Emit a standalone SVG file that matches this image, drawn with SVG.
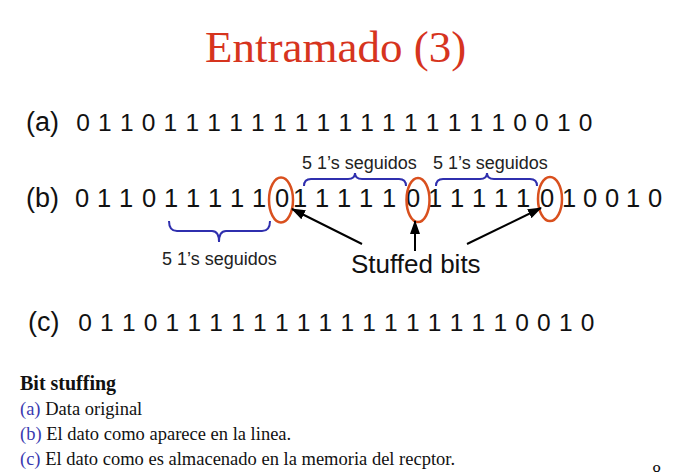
<svg xmlns="http://www.w3.org/2000/svg" width="684" height="472" viewBox="0 0 684 472">
  <defs>
    <marker id="head" viewBox="0 0 14 10" refX="13" refY="5" markerWidth="14" markerHeight="10" markerUnits="userSpaceOnUse" orient="auto">
      <path d="M0,0 L14,5 L0,10 Z" fill="#000"/>
    </marker>
  </defs>
  <style>
    .title { font-family: "Liberation Serif", "Times New Roman", serif; font-size: 45px; fill: #d6341e; }
    .bits { font-family: "Liberation Sans", Arial, sans-serif; font-size: 24.5px; fill: #111; text-anchor: middle; }
    .bitsb { font-family: "Liberation Sans", Arial, sans-serif; font-size: 25.5px; fill: #111; text-anchor: middle; }
    .lbl { font-family: "Liberation Sans", Arial, sans-serif; font-size: 27px; fill: #111; }
    .note { font-family: "Liberation Sans", Arial, sans-serif; font-size: 18px; fill: #222; }
    .stuffed { font-family: "Liberation Sans", Arial, sans-serif; font-size: 26px; fill: #111; }
    .brace { fill: none; stroke: #2f2fae; stroke-width: 2; }
    .ring { fill: none; stroke: #d9501e; stroke-width: 2.5; }
    .arrow { fill: none; stroke: #000; stroke-width: 2; marker-end: url(#head); }
    .cap { font-family: "Liberation Serif", "Times New Roman", serif; font-size: 18.5px; fill: #111; }
    .capb { font-family: "Liberation Serif", "Times New Roman", serif; font-size: 20px; font-weight: bold; fill: #111; }
    .key { fill: #3a3ab0; }
  </style>

  <text class="title" x="205" y="62">Entramado (3)</text>

  <!-- row (a): original data -->
  <g id="row-a">
    <text class="lbl" x="26" y="131">(a)</text>
    <text class="bits" y="131" x="83 104.9 126.7 148.6 170.4 192.3 214.1 236 257.8 279.7 301.5 323.4 345.2 367.1 388.9 410.8 432.6 454.5 476.3 498.2 520 541.9 563.7 585.6">011011111111111111110010</text>
  </g>

  <!-- row (b): data on the line, with stuffed bits -->
  <g id="row-b">
    <text class="lbl" x="26" y="207">(b)</text>
    <text class="bitsb" y="207" x="82 104 126 149 171 193 215 237 259 282 300 322 344 366 389 413 435 457 479 501 523 547 569 590 612 633 655">011011111011111011111010010</text>
  </g>

  <!-- rings around the stuffed zeros -->
  <g id="stuffed-rings">
    <ellipse class="ring" cx="281" cy="200" rx="12" ry="22.5"/>
    <ellipse class="ring" cx="418" cy="200" rx="11.5" ry="22"/>
    <ellipse class="ring" cx="550" cy="199" rx="12" ry="22"/>
  </g>

  <!-- braces marking five consecutive ones -->
  <g id="braces">
    <path class="brace" d="M304,186 Q304,179 311,179 L348,179 Q355,179 355,173 Q355,179 362,179 L399,179 Q406,179 406,186"/>
    <path class="brace" d="M436,186 Q436,179 443,179 L480,179 Q487,179 487,173 Q487,179 494,179 L530,179 Q537,179 537,186"/>
    <path class="brace" d="M169,221 Q169,231 177,231 L212,231 Q219,231 219,242 Q219,231 226,231 L262,231 Q270,231 270,221"/>
  </g>

  <g id="brace-labels">
    <text class="note" x="302" y="169">5 1’s seguidos</text>
    <text class="note" x="433" y="169">5 1’s seguidos</text>
    <text class="note" x="162" y="265">5 1’s seguidos</text>
  </g>

  <!-- pointers to the stuffed bits -->
  <g id="connectors">
    <line class="arrow" x1="362" y1="244" x2="292" y2="209"/>
    <line class="arrow" x1="415" y1="251" x2="415" y2="221"/>
    <line class="arrow" x1="467" y1="244" x2="541" y2="208"/>
  </g>

  <g id="stuffed-label">
    <text class="stuffed" x="351" y="273">Stuffed bits</text>
  </g>

  <!-- row (c): data stored at the receiver -->
  <g id="row-c">
    <text class="lbl" x="28" y="331">(c)</text>
    <text class="bits" y="331" x="85 106.9 128.7 150.6 172.4 194.3 216.1 238 259.8 281.7 303.5 325.4 347.2 369.1 390.9 412.8 434.6 456.5 478.3 500.2 522 543.9 565.7 587.6">011011111111111111110010</text>
  </g>

  <!-- caption -->
  <g id="caption">
    <text class="capb" x="20" y="390">Bit stuffing</text>
    <text class="cap" x="20" y="415"><tspan class="key">(a)</tspan> Data original</text>
    <text class="cap" x="20" y="440"><tspan class="key">(b)</tspan> El dato como aparece en la linea.</text>
    <text class="cap" x="20" y="465"><tspan class="key">(c)</tspan> El dato como es almacenado en la memoria del recptor.</text>
    <text class="cap" x="652" y="478" font-size="14" fill="#444">8</text>
  </g>
</svg>
